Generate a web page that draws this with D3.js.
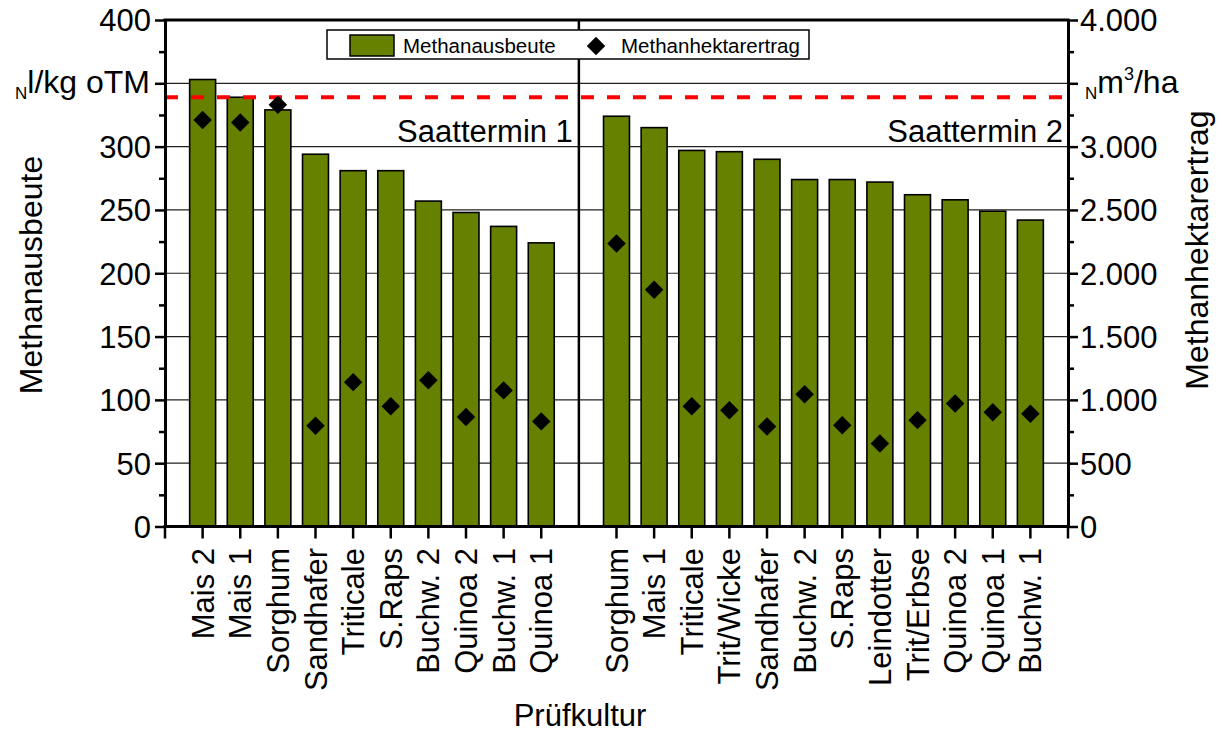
<!DOCTYPE html>
<html>
<head>
<meta charset="utf-8">
<script src="https://cdn.jsdelivr.net/npm/d3@7"></script>
<style>
  body { margin: 0; background: #fff; }
  svg text { font-family: "Liberation Sans", Arial, sans-serif; fill: #000; }
</style>
</head>
<body>
<script>
// Saattermin 1
const categories1 = ["Mais 2", "Mais 1", "Sorghum", "Sandhafer", "Triticale", "S.Raps", "Buchw. 2", "Quinoa 2", "Buchw. 1", "Quinoa 1"];
const ausbeute1 = [353, 339, 329, 294, 281, 281, 257, 248, 237, 224];
const hektar1 = [3210, 3190, 3330, 795, 1140, 950, 1155, 865, 1075, 830];

// Saattermin 2
const categories2 = ["Sorghum", "Mais 1", "Triticale", "Trit/Wicke", "Sandhafer", "Buchw. 2", "S.Raps", "Leindotter", "Trit/Erbse", "Quinoa 2", "Quinoa 1", "Buchw. 1"];
const ausbeute2 = [324, 315, 297, 296, 290, 274, 274, 272, 262, 258, 249, 242];
const hektar2 = [2235, 1870, 950, 918, 790, 1045, 800, 655, 840, 972, 902, 890];

const referenz = 339;
const leftTicks = [0, 50, 100, 150, 200, 250, 300, 350, 400];
const rightTicks = [0, 500, 1000, 1500, 2000, 2500, 3000, 3500, 4000];

const width = 1222, height = 735;
const plotLeft = 165, plotRight = 1068, plotTop = 20, plotBottom = 526.5;
const fs = 31;

const svg = d3.select('body').append('svg')
    .attr('width', width)
    .attr('height', height)

// slot positions: group 1 at 1..10, gap at 11, group 2 at 12..23
const rows = categories1.map((c, i) => ({ name: c, a: ausbeute1[i], h: hektar1[i], slot: i + 1 }))
    .concat(categories2.map((c, i) => ({ name: c, a: ausbeute2[i], h: hektar2[i], slot: i + categories1.length + 2 })));
const gapSlot = categories1.length + 1;
const nSlots = categories1.length + categories2.length + 2;

const x = d3.scaleLinear().domain([0, nSlots]).range([plotLeft, plotRight]);
const y = d3.scaleLinear().domain([0, 400]).range([plotBottom, plotTop]);
const y2 = d3.scaleLinear().domain([0, 4000]).range([plotBottom, plotTop]);

const de = d3.formatLocale({ decimal: ",", thousands: ".", grouping: [3], currency: ["", ""] });
const fmtRight = de.format(",");

// gridlines
svg.append('g').selectAll('line')
    .data(leftTicks.filter(t => t > 0 && t < 400))
    .enter()
    .append('line')
    .attr('x1', plotLeft).attr('x2', plotRight)
    .attr('y1', d => y(d)).attr('y2', d => y(d))
    .attr('stroke', '#222')
    .attr('stroke-width', 1.2)

// bars
const barW = x(0.69) - x(0);
svg.append('g').selectAll('rect')
    .data(rows)
    .enter()
    .append('rect')
    .attr('x', d => x(d.slot) - barW / 2)
    .attr('y', d => y(d.a))
    .attr('width', barW)
    .attr('height', d => y(0) - y(d.a))
    .attr('fill', '#668000')
    .attr('stroke', '#000')
    .attr('stroke-width', 1.6)

// divider between sowing dates
svg.append('line')
    .attr('x1', x(gapSlot)).attr('x2', x(gapSlot))
    .attr('y1', plotTop).attr('y2', plotBottom)
    .attr('stroke', '#000')
    .attr('stroke-width', 2.5)

// reference line
svg.append('line')
    .attr('x1', plotLeft).attr('x2', plotRight)
    .attr('y1', y(referenz)).attr('y2', y(referenz))
    .attr('stroke', '#ff0000')
    .attr('stroke-width', 4)
    .attr('stroke-dasharray', '13,13')

// diamonds
const diamond = d3.symbol().type(d3.symbolSquare).size(170);
svg.append('g').selectAll('path')
    .data(rows)
    .enter()
    .append('path')
    .attr('d', diamond)
    .attr('transform', d => `translate(${x(d.slot)},${y2(d.h)}) rotate(45)`)
    .attr('fill', '#000')

// frame
svg.append('line').attr('x1', plotLeft - 1.5).attr('x2', plotRight + 1.5).attr('y1', plotTop).attr('y2', plotTop)
    .attr('stroke', '#000').attr('stroke-width', 3)

// left axis
const gLeft = svg.append('g').attr('transform', `translate(${plotLeft},0)`);
gLeft.call(d3.axisLeft(y).tickValues(d3.range(25, 400, 50)).tickSize(6).tickSizeOuter(0).tickFormat(''));
gLeft.append('g').call(d3.axisLeft(y).tickValues(leftTicks).tickSize(10).tickSizeOuter(0)
    .tickFormat(d => d === 350 ? '' : d));
gLeft.selectAll('path.domain').attr('stroke-width', 3);
gLeft.selectAll('.tick line').attr('stroke-width', 2.5);
gLeft.selectAll('.tick text').attr('font-size', fs).attr('x', -14).attr('dy', '0.35em')
    .attr('font-family', '"Liberation Sans", Arial, sans-serif');

// right axis
const gRight = svg.append('g').attr('transform', `translate(${plotRight},0)`);
gRight.call(d3.axisRight(y2).tickValues(d3.range(250, 4000, 500)).tickSize(6).tickSizeOuter(0).tickFormat(''));
gRight.append('g').call(d3.axisRight(y2).tickValues(rightTicks).tickSize(10).tickSizeOuter(0)
    .tickFormat(d => d === 3500 ? '' : fmtRight(d)));
gRight.selectAll('path.domain').attr('stroke-width', 3);
gRight.selectAll('.tick line').attr('stroke-width', 2.5);
gRight.selectAll('.tick text').attr('font-size', fs).attr('x', 12).attr('dy', '0.35em')
    .attr('font-family', '"Liberation Sans", Arial, sans-serif');

// bottom axis
const xTicks = [0].concat(rows.map(d => d.slot), [nSlots]);
svg.append('line').attr('x1', plotLeft - 1.5).attr('x2', plotRight + 1.5).attr('y1', plotBottom).attr('y2', plotBottom)
    .attr('stroke', '#000').attr('stroke-width', 3)
svg.append('g').selectAll('line')
    .data(xTicks)
    .enter()
    .append('line')
    .attr('x1', d => x(d)).attr('x2', d => x(d))
    .attr('y1', plotBottom).attr('y2', plotBottom + 12)
    .attr('stroke', '#000')
    .attr('stroke-width', 2.5)

svg.append('g').selectAll('text')
    .data(rows)
    .enter()
    .append('text')
    .attr('transform', d => `translate(${x(d.slot) + 11},548) rotate(-90)`)
    .attr('text-anchor', 'end')
    .attr('font-size', fs)
    .text(d => d.name)

// unit labels
const unitL = svg.append('text').attr('x', 150).attr('y', 93).attr('text-anchor', 'end').attr('font-size', 32);
unitL.append('tspan').attr('font-size', 17).attr('dy', 6).text('N');
unitL.append('tspan').attr('dy', -6).text('l/kg oTM');

const unitR = svg.append('text').attr('x', 1085).attr('y', 93).attr('font-size', 32);
unitR.append('tspan').attr('font-size', 17).attr('dy', 6).text('N');
unitR.append('tspan').attr('dy', -6).text('m');
unitR.append('tspan').attr('font-size', 18).attr('dy', -13).text('3');
unitR.append('tspan').attr('dy', 13).text('/ha');

// axis titles
svg.append('text')
    .attr('transform', 'translate(42,275) rotate(-90)')
    .attr('text-anchor', 'middle')
    .attr('font-size', 32)
    .text('Methanausbeute')
svg.append('text')
    .attr('transform', 'translate(1208,250) rotate(-90)')
    .attr('text-anchor', 'middle')
    .attr('font-size', 32)
    .text('Methanhektarertrag')
svg.append('text')
    .attr('x', 580).attr('y', 726)
    .attr('text-anchor', 'middle')
    .attr('font-size', fs)
    .text('Prüfkultur')

// group labels
svg.append('text').attr('x', x(gapSlot) - 6).attr('y', 142).attr('text-anchor', 'end').attr('font-size', fs).text('Saattermin 1');
svg.append('text').attr('x', plotRight - 5).attr('y', 142).attr('text-anchor', 'end').attr('font-size', fs).text('Saattermin 2');

// legend
const lg = svg.append('g');
lg.append('rect').attr('x', 327).attr('y', 30).attr('width', 482).attr('height', 29)
    .attr('fill', '#fff').attr('stroke', '#000').attr('stroke-width', 1.5);
lg.append('rect').attr('x', 350).attr('y', 35).attr('width', 44).attr('height', 21)
    .attr('fill', '#668000').attr('stroke', '#000').attr('stroke-width', 1.5);
lg.append('text').attr('x', 403).attr('y', 53).attr('font-size', 20.5).text('Methanausbeute');
lg.append('path').attr('d', diamond).attr('transform', 'translate(596,46) rotate(45)').attr('fill', '#000');
lg.append('text').attr('x', 621).attr('y', 53).attr('font-size', 20.5).text('Methanhektarertrag');
</script>
</body>
</html>
